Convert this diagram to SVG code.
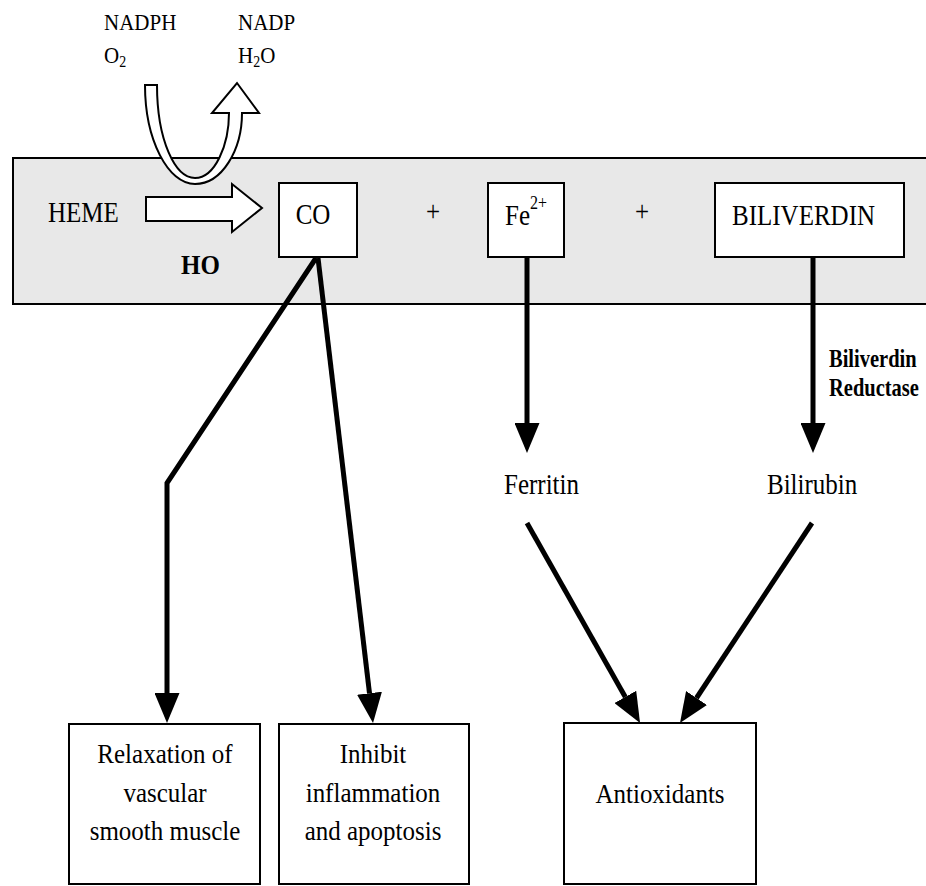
<svg xmlns="http://www.w3.org/2000/svg" width="926" height="886" viewBox="0 0 926 886" font-family="'Liberation Serif', 'Times New Roman', Times, serif">
<style>
.t{font-size:25px;fill:#000}
.s{font-size:21px}
.b{font-weight:bold}
.box{fill:#fff;stroke:#000;stroke-width:2}
.con{fill:none;stroke:#000;stroke-width:5;stroke-linejoin:miter}
.blk{fill:#fff;stroke:#000;stroke-width:2;stroke-linejoin:miter}
</style>
<defs>
<marker id="ah" viewBox="0 -12.5 30 25" refX="0" refY="0" markerWidth="30" markerHeight="25" markerUnits="userSpaceOnUse" orient="auto">
<path d="M0,-12.5 L30,0 L0,12.5 Z" fill="#000"/>
</marker>
</defs>
<g id="band">
<rect x="13" y="158" width="930" height="146" fill="#e8e8e8" stroke="#000" stroke-width="2"/>
</g>
<g id="cofactors">
<text class="t s" transform="translate(104,30) scale(1,1.12)">NADPH</text>
<text class="t s" transform="translate(104,63) scale(1,1.12)">O<tspan font-size="14" dy="4">2</tspan></text>
<text class="t s" transform="translate(238,30) scale(1,1.12)">NADP</text>
<text class="t s" transform="translate(238,63) scale(1,1.12)">H<tspan font-size="14" dy="4">2</tspan><tspan dy="-4">O</tspan></text>
<path class="blk" d="M145,85 L157,85 C157,140 175,178 195,178 C215,178 229,145 229,113 L212,113 L237,83 L259,113 L242,113 C242,150 222,184 195,184 C168,184 145,140 145,85 Z"/>
</g>
<g id="heme">
<text class="t" transform="translate(48,222) scale(1,1.15)">HEME</text>
<path class="blk" d="M146,197 L232,197 L232,184 L262,208 L232,232 L232,221 L146,221 Z"/>
<text class="t b" transform="translate(181,274) scale(1,1.12)">HO</text>
</g>
<g id="co">
<rect class="box" x="279" y="183" width="78" height="74"/>
<text class="t" text-anchor="middle" transform="translate(313,224) scale(1,1.15)">CO</text>
</g>
<g id="plus1"><text class="t" text-anchor="middle" transform="translate(433,221) scale(1,1.15)">+</text></g>
<g id="fe">
<rect class="box" x="488" y="183" width="76" height="74"/>
<text class="t" transform="translate(505,225) scale(1,1.15)">Fe<tspan font-size="16" dy="-14">2+</tspan></text>
</g>
<g id="plus2"><text class="t" text-anchor="middle" transform="translate(642,221) scale(1,1.15)">+</text></g>
<g id="biliverdin">
<rect class="box" x="715" y="183" width="189" height="74"/>
<text class="t" transform="translate(732,225) scale(1,1.15)">BILIVERDIN</text>
</g>
<g id="enzyme">
<text class="t b" style="font-size:20.5px" transform="translate(829,367) scale(1,1.22)">Biliverdin</text>
<text class="t b" style="font-size:20.5px" transform="translate(829,396) scale(1,1.22)">Reductase</text>
</g>
<g id="ferritin">
<text class="t" transform="translate(504,494) scale(1,1.18)">Ferritin</text>
</g>
<g id="bilirubin">
<text class="t" transform="translate(767,494) scale(1,1.18)">Bilirubin</text>
</g>
<g id="relaxation">
<rect class="box" x="69" y="724" width="191" height="160"/>
<text class="t" text-anchor="middle" transform="translate(165,763) scale(1,1.12)">Relaxation of</text>
<text class="t" text-anchor="middle" transform="translate(165,802) scale(1,1.12)">vascular</text>
<text class="t" text-anchor="middle" transform="translate(165,840) scale(1,1.12)">smooth muscle</text>
</g>
<g id="inhibit">
<rect class="box" x="279" y="724" width="190" height="160"/>
<text class="t" text-anchor="middle" transform="translate(373,763) scale(1,1.12)">Inhibit</text>
<text class="t" text-anchor="middle" transform="translate(373,802) scale(1,1.12)">inflammation</text>
<text class="t" text-anchor="middle" transform="translate(373,840) scale(1,1.12)">and apoptosis</text>
</g>
<g id="antioxidants">
<rect class="box" x="564" y="723" width="192" height="161"/>
<text class="t" text-anchor="middle" transform="translate(660,803) scale(1,1.12)">Antioxidants</text>
</g>
<g id="connectors">
<path class="con" d="M316,258 L167,483 L167,693" marker-end="url(#ah)"/>
<path class="con" d="M318,258 L369.5,693.2" marker-end="url(#ah)"/>
<path class="con" d="M527,257 L527,423" marker-end="url(#ah)"/>
<path class="con" d="M813,257 L813,423" marker-end="url(#ah)"/>
<path class="con" d="M527,523 L625.3,696.9" marker-end="url(#ah)"/>
<path class="con" d="M812,523 L696.5,698" marker-end="url(#ah)"/>
</g>
</svg>
